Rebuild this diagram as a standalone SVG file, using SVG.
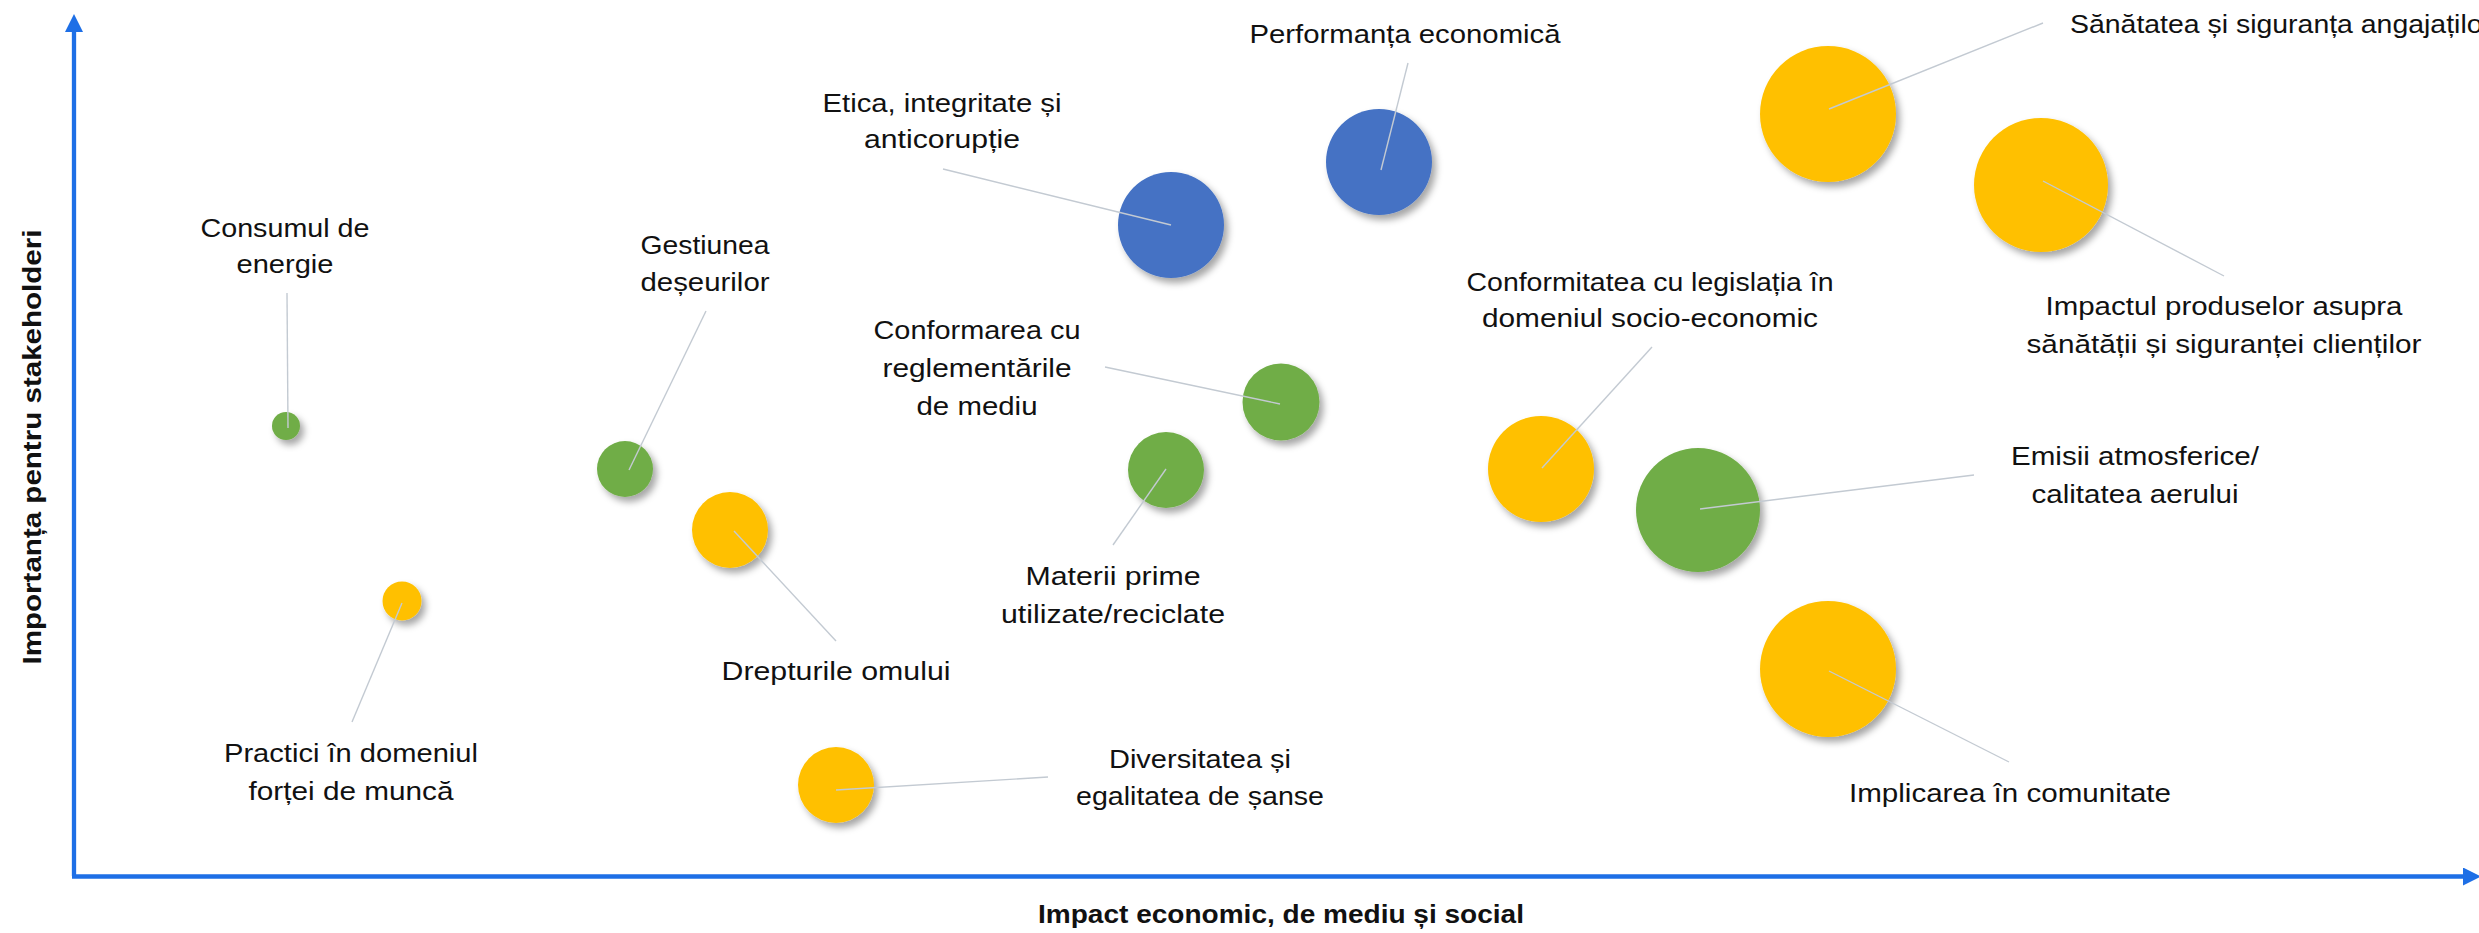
<svg xmlns="http://www.w3.org/2000/svg" width="2479" height="933" viewBox="0 0 2479 933">
<style>
  .lbl { font-family: "Liberation Sans", Arial, sans-serif; font-size: 26px; fill: #111; text-anchor: middle; }
  .axl { font-family: "Liberation Sans", Arial, sans-serif; font-size: 26px; font-weight: bold; fill: #111; }
  .lead { stroke: #C3CAD2; stroke-width: 1.4; fill: none; }
  .axis { stroke: #1E6FE6; stroke-width: 4.3; fill: none; }
  .b { fill: #4472C4; filter: url(#sh); }
  .y { fill: #FFC000; filter: url(#sh); }
  .g { fill: #70AD47; filter: url(#sh); }
</style>
<defs>
  <filter id="sh" x="-30%" y="-30%" width="170%" height="170%">
    <feDropShadow dx="4" dy="5" stdDeviation="3.5" flood-color="#000" flood-opacity="0.35"/>
  </filter>
  <marker id="arr" markerUnits="userSpaceOnUse" markerWidth="18" markerHeight="18" viewBox="0 0 16 16" refX="0" refY="8" orient="auto">
    <path d="M0,0 L16,8 L0,16 Z" fill="#1E6FE6"/>
  </marker>
</defs>
<rect width="2479" height="933" fill="#fff"/>

<g id="axes">
  <line class="axis" x1="74" y1="876" x2="74" y2="32" marker-end="url(#arr)"/>
  <line class="axis" x1="72" y1="876.5" x2="2463" y2="876.5" marker-end="url(#arr)"/>
  <text class="axl" x="1038" y="923" textLength="486" lengthAdjust="spacingAndGlyphs">Impact economic, de mediu și social</text>
  <text class="axl" transform="translate(41,447) rotate(-90)" x="0" y="0" text-anchor="middle" textLength="435" lengthAdjust="spacingAndGlyphs">Importanța pentru stakeholderi</text>
</g>

<g id="n-consum"><circle class="g" cx="286" cy="426" r="14"/>
  <text class="lbl" x="285" y="237" textLength="169" lengthAdjust="spacingAndGlyphs">Consumul de</text>
  <text class="lbl" x="285" y="273" textLength="97" lengthAdjust="spacingAndGlyphs">energie</text></g>
<g id="n-gestiunea"><circle class="g" cx="625" cy="469" r="28"/>
  <text class="lbl" x="705" y="254" textLength="129" lengthAdjust="spacingAndGlyphs">Gestiunea</text>
  <text class="lbl" x="705" y="291" textLength="129" lengthAdjust="spacingAndGlyphs">deșeurilor</text></g>
<g id="n-practici"><circle class="y" cx="402" cy="601" r="19.5"/>
  <text class="lbl" x="351" y="762" textLength="254" lengthAdjust="spacingAndGlyphs">Practici în domeniul</text>
  <text class="lbl" x="351" y="800" textLength="205" lengthAdjust="spacingAndGlyphs">forței de muncă</text></g>
<g id="n-drepturile"><circle class="y" cx="730" cy="530" r="38"/>
  <text class="lbl" x="836" y="680" textLength="229" lengthAdjust="spacingAndGlyphs">Drepturile omului</text></g>
<g id="n-diversitatea"><circle class="y" cx="836" cy="785" r="38"/>
  <text class="lbl" x="1200" y="768" textLength="182" lengthAdjust="spacingAndGlyphs">Diversitatea și</text>
  <text class="lbl" x="1200" y="805" textLength="248" lengthAdjust="spacingAndGlyphs">egalitatea de șanse</text></g>
<g id="n-etica"><circle class="b" cx="1171" cy="225" r="53"/>
  <text class="lbl" x="942" y="112" textLength="239" lengthAdjust="spacingAndGlyphs">Etica, integritate și</text>
  <text class="lbl" x="942" y="148" textLength="156" lengthAdjust="spacingAndGlyphs">anticorupție</text></g>
<g id="n-materii"><circle class="g" cx="1166" cy="470" r="38"/>
  <text class="lbl" x="1113" y="585" textLength="175" lengthAdjust="spacingAndGlyphs">Materii prime</text>
  <text class="lbl" x="1113" y="623" textLength="224" lengthAdjust="spacingAndGlyphs">utilizate/reciclate</text></g>
<g id="n-conformarea"><circle class="g" cx="1281" cy="402" r="38.5"/>
  <text class="lbl" x="977" y="339" textLength="207" lengthAdjust="spacingAndGlyphs">Conformarea cu</text>
  <text class="lbl" x="977" y="377" textLength="189" lengthAdjust="spacingAndGlyphs">reglementările</text>
  <text class="lbl" x="977" y="415" textLength="121" lengthAdjust="spacingAndGlyphs">de mediu</text></g>
<g id="n-performanta"><circle class="b" cx="1379" cy="162" r="53"/>
  <text class="lbl" x="1405" y="43" textLength="311" lengthAdjust="spacingAndGlyphs">Performanța economică</text></g>
<g id="n-conformitatea"><circle class="y" cx="1541" cy="469" r="53"/>
  <text class="lbl" x="1650" y="291" textLength="367" lengthAdjust="spacingAndGlyphs">Conformitatea cu legislația în</text>
  <text class="lbl" x="1650" y="327" textLength="336" lengthAdjust="spacingAndGlyphs">domeniul socio-economic</text></g>
<g id="n-emisii"><circle class="g" cx="1698" cy="510" r="62"/>
  <text class="lbl" x="2135" y="465" textLength="248" lengthAdjust="spacingAndGlyphs">Emisii atmosferice/</text>
  <text class="lbl" x="2135" y="503" textLength="207" lengthAdjust="spacingAndGlyphs">calitatea aerului</text></g>
<g id="n-sanatatea"><circle class="y" cx="1828" cy="114" r="68"/>
  <text class="lbl" x="2070" y="33" text-anchor="start" style="text-anchor:start" textLength="422" lengthAdjust="spacingAndGlyphs">Sănătatea și siguranța angajaților</text></g>
<g id="n-impactul"><circle class="y" cx="2041" cy="185" r="67"/>
  <text class="lbl" x="2224" y="315" textLength="357" lengthAdjust="spacingAndGlyphs">Impactul produselor asupra</text>
  <text class="lbl" x="2224" y="353" textLength="395" lengthAdjust="spacingAndGlyphs">sănătății și siguranței clienților</text></g>
<g id="n-implicarea"><circle class="y" cx="1828" cy="669" r="68"/>
  <text class="lbl" x="2010" y="802" textLength="322" lengthAdjust="spacingAndGlyphs">Implicarea în comunitate</text></g>

<g id="connectors">
  <line class="lead" x1="287" y1="293" x2="288" y2="428"/>
  <line class="lead" x1="706" y1="311" x2="629" y2="470"/>
  <line class="lead" x1="943" y1="169" x2="1171" y2="225"/>
  <line class="lead" x1="1105" y1="367" x2="1280" y2="404"/>
  <line class="lead" x1="1408" y1="63" x2="1381" y2="170"/>
  <line class="lead" x1="2043" y1="23" x2="1829" y2="109"/>
  <line class="lead" x1="2043" y1="181" x2="2224" y2="276"/>
  <line class="lead" x1="1652" y1="347" x2="1542" y2="468"/>
  <line class="lead" x1="1974" y1="475" x2="1700" y2="509"/>
  <line class="lead" x1="1166" y1="469" x2="1113" y2="545"/>
  <line class="lead" x1="734" y1="531" x2="836" y2="641"/>
  <line class="lead" x1="402" y1="603" x2="352" y2="722"/>
  <line class="lead" x1="836" y1="790" x2="1048" y2="777"/>
  <line class="lead" x1="1829" y1="671" x2="2009" y2="762"/>
</g>
</svg>
